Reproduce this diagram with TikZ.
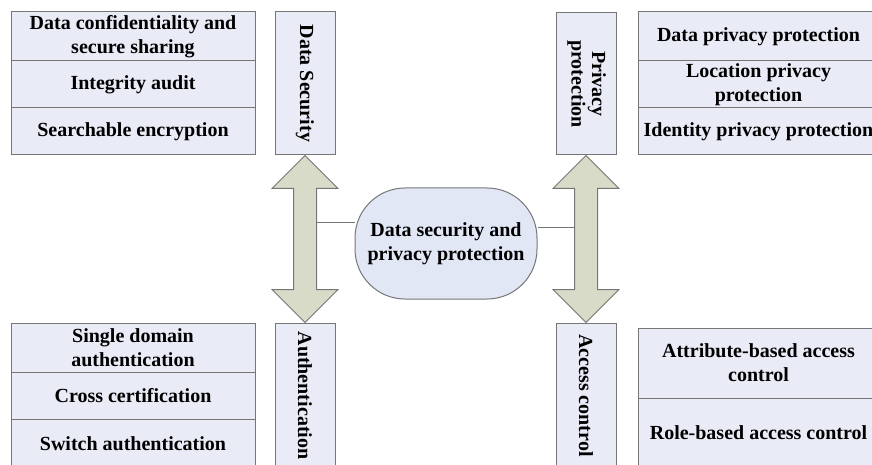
\documentclass[tikz,border=0pt]{standalone}
\usepackage{fontspec}
\setmainfont{Liberation Serif}
\usetikzlibrary{calc}

\definecolor{cellfill}{RGB}{233,235,246}
\definecolor{corefill}{RGB}{226,231,246}
\definecolor{arrowfill}{RGB}{216,219,200}
\definecolor{edgegray}{RGB}{118,118,118}

\tikzset{
  cell/.style={draw=edgegray, fill=cellfill, line width=1pt, inner sep=0pt,
    align=center, font=\bfseries\fontsize{20}{24}\selectfont},
  leftcell/.style={cell, minimum width=244},
  rightcell/.style={cell, minimum width=241},
  upright/.style={cell, minimum width=60},
  core/.style={cell, fill=corefill, rounded corners=50, minimum width=182, minimum height=111},
  dblarrow/.style={draw=edgegray, fill=arrowfill, line width=1pt, line join=miter},
  link/.style={draw=edgegray, line width=1pt}
}

\begin{document}
\begin{tikzpicture}[x=1pt,y=-1pt]

        \useasboundingbox (0,0) rectangle (872,465);
        \clip (0,0) rectangle (872,465);

        % data security
        \node[leftcell, minimum height=49] (dcs) at (133,36.5)  {Data confidentiality and\\secure sharing};
        \node[leftcell, minimum height=47] (ia)  at (133,84.5)  {Integrity audit};
        \node[leftcell, minimum height=47] (se)  at (133,131.5) {Searchable encryption};
        \node[upright, minimum height=143] (datasec) at (305,83.5) {\rotatebox{-90}{Data Security}};

        % privacy protection
        \node[upright, minimum height=142] (privacy) at (586,84)
          {\rotatebox{-90}{\renewcommand\arraystretch{0.85}\begin{tabular}{@{}c@{}}Privacy\\protection\end{tabular}}};
        \node[rightcell, minimum height=49] (dpp) at (758.5,36.5)  {Data privacy protection};
        \node[rightcell, minimum height=47] (lpp) at (758.5,84.5)  {Location privacy\\protection};
        \node[rightcell, minimum height=47] (ipp) at (758.5,131.5) {Identity privacy protection};

        % authentication
        \node[leftcell, minimum height=49] (sda) at (133,347.5) {Single domain\\authentication};
        \node[leftcell, minimum height=47] (cc)  at (133,395.5) {Cross certification};
        \node[leftcell, minimum height=49] (sa)  at (133,443.5) {Switch authentication};
        \node[upright, minimum height=145] (auth) at (305,395.5) {\rotatebox{-90}{Authentication}};

        % access control
        \node[upright, minimum height=145] (access) at (586,395.5) {\rotatebox{-90}{Access control}};
        \node[rightcell, minimum height=70] (abac) at (758.5,363) {Attribute-based access\\control};
        \node[rightcell, minimum height=70] (rbac) at (758.5,433) {Role-based access control};

        % centre
        \node[core] (core) at (446,243.5) {Data security and\\privacy protection};

        \foreach \srcbox/\dstbox in {datasec/auth, privacy/access}
          \draw[dblarrow] (\srcbox.south) -- ++(33,33) -- ++(-21.5,0)
            -- ($(\dstbox.north)+(11.5,-33)$) -- ++(21.5,0) -- (\dstbox.north)
            -- ++(-33,-33) -- ++(21.5,0) -- ($(\srcbox.south)+(-11.5,33)$)
            -- ++(-21.5,0) -- cycle;

        \coordinate (ljoin) at (316.5,222);
        \coordinate (rjoin) at (574.5,227);
        \draw[link] (ljoin) -- (ljoin -| core.west);
        \draw[link] (core.east |- rjoin) -- (rjoin);

      \end{tikzpicture}
\end{document}
